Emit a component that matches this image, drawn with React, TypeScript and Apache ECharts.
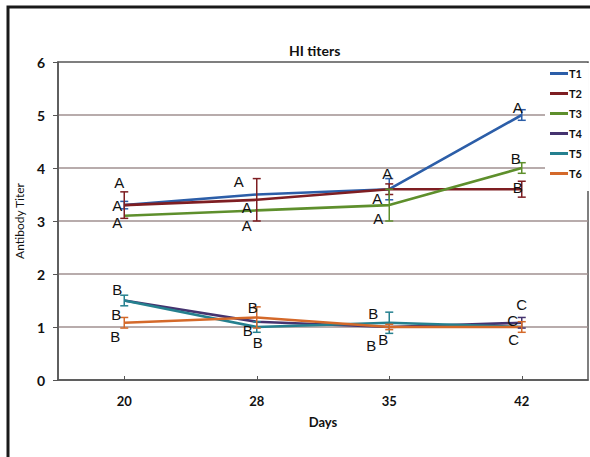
import React, { useEffect, useRef } from "react";
import * as echarts from "echarts";

// Sampling days (x categories)
const days = ["20", "28", "35", "42"];
const yTicks = [0, 1, 2, 3, 4, 5, 6];

// Mean HI antibody titers per treatment
const seriesNames = ["T1", "T2", "T3", "T4", "T5", "T6"];
const t1 = [3.3, 3.5, 3.6, 5.0];
const t2 = [3.3, 3.4, 3.6, 3.6];
const t3 = [3.1, 3.2, 3.3, 4.0];
const t4 = [1.5, 1.1, 1.0, 1.08];
const t5 = [1.5, 1.0, 1.08, 1.0];
const t6 = [1.08, 1.18, 1.0, 1.0];

// Standard errors (half-length of the error bars)
const e1 = [0.07, 0, 0.2, 0.1];
const e2 = [0.25, 0.4, 0.1, 0.15];
const e3 = [0, 0, 0.3, 0.1];
const e4 = [0, 0, 0, 0.1];
const e5 = [0.1, 0.1, 0.2, 0];
const e6 = [0.1, 0.2, 0.05, 0.1];

const colors = ["#2c5ea8", "#7e1e22", "#5e8f2c", "#45336f", "#25808f", "#d4692a"];

// Significance letters: [day index, y value, text, horizontal nudge in px]
const letterDay = [0, 0, 0, 0, 0, 0, 1, 1, 1, 1, 1, 1, 2, 2, 2, 2, 2, 2, 3, 3, 3, 3, 3, 3];
const letterY = [3.72, 3.3, 2.98, 1.7, 1.23, 0.83, 3.74, 3.26, 2.92, 1.36, 0.94, 0.7, 3.89, 3.43, 3.04, 1.26, 0.77, 0.66, 5.15, 4.17, 3.64, 1.43, 1.13, 0.77];
const letterText = ["A", "A", "A", "B", "B", "B", "A", "A", "A", "B", "B", "B", "A", "A", "A", "B", "B", "B", "A", "B", "B", "C", "C", "C"];
const letterDx = [-5, -7, -7, -7, -8, -9, -18, -10, -10, -4, -9, 1, -2, -12, -11, -16, -6, -18, -4, -6, -4, 0, -9, -8];

const means = [t1, t2, t3, t4, t5, t6];
const errs = [e1, e2, e3, e4, e5, e6];

export default function App() {
  const ref = useRef<HTMLDivElement>(null);

  useEffect(() => {
    if (!ref.current) return;
    const chart = echarts.init(ref.current, null, { renderer: "svg" });

    const lineSeries = seriesNames.map((name, i) => ({
      name,
      type: "line",
      data: means[i],
      symbol: "none",
      lineStyle: { width: 2.6, color: colors[i] },
      itemStyle: { color: colors[i] },
      z: 3,
    }));

    const errorSeries = seriesNames.map((name, i) => ({
      name: name + "-err",
      type: "custom",
      data: means[i]
        .map((m, d) => [d, m - errs[i][d], m + errs[i][d]])
        .filter((r, d) => errs[i][d] > 0),
      z: 4,
      renderItem: (params: any, api: any) => {
        const x = api.value(0);
        const lo = api.coord([x, api.value(1)]);
        const hi = api.coord([x, api.value(2)]);
        const hw = 4;
        const style = { stroke: colors[i], lineWidth: 1.5 };
        return {
          type: "group",
          children: [
            { type: "line", shape: { x1: lo[0], y1: lo[1], x2: hi[0], y2: hi[1] }, style },
            { type: "line", shape: { x1: lo[0] - hw, y1: lo[1], x2: lo[0] + hw, y2: lo[1] }, style },
            { type: "line", shape: { x1: hi[0] - hw, y1: hi[1], x2: hi[0] + hw, y2: hi[1] }, style },
          ],
        };
      },
    }));

    const letterSeries = {
      name: "letters",
      type: "custom",
      z: 5,
      data: letterDay.map((d, k) => [d, letterY[k], k]),
      renderItem: (params: any, api: any) => {
        const k = api.value(2);
        const p = api.coord([api.value(0), api.value(1)]);
        return {
          type: "text",
          x: p[0] + letterDx[k],
          y: p[1],
          style: {
            text: letterText[k],
            fill: "#111",
            font: "15px 'Liberation Sans', Arial, sans-serif",
            align: "center",
            verticalAlign: "middle",
          },
        };
      },
    };

    chart.setOption({
      animation: false,
      backgroundColor: "#fff",
      title: {
        text: "HI titers",
        left: 284,
        top: 38,
        textStyle: { fontFamily: "Lato", fontWeight: "bold", fontSize: 14, color: "#111" },
      },
      legend: {
        data: seriesNames,
        orient: "vertical",
        left: 545,
        top: 63,
        padding: [5, 7, 12, 5],
        backgroundColor: "#fff",
        icon: "rect",
        itemWidth: 18,
        itemHeight: 3,
        itemGap: 9,
        textStyle: { fontFamily: "Lato", fontWeight: "bold", fontSize: 11, color: "#111", padding: [0, 0, 0, -4] },
        z: 2,
      },
      grid: {
        left: 58,
        top: 62,
        right: 2,
        bottom: 77,
        show: true,
        borderColor: "#555",
        borderWidth: 1.5,
        backgroundColor: "transparent",
      },
      xAxis: {
        type: "category",
        data: days,
        name: "Days",
        nameLocation: "middle",
        nameGap: 35,
        nameTextStyle: { fontFamily: "Lato", fontWeight: "bold", fontSize: 13, color: "#111" },
        axisLine: { lineStyle: { color: "#555", width: 1.5 } },
        axisTick: { show: true, inside: true, alignWithLabel: true, length: 4, lineStyle: { color: "#555" } },
        axisLabel: { margin: 14, fontFamily: "Lato", fontWeight: "bold", fontSize: 13, color: "#111" },
        splitLine: { show: false },
      },
      yAxis: {
        type: "value",
        min: yTicks[0],
        max: yTicks[yTicks.length - 1],
        interval: 1,
        name: "Antibody Titer",
        nameLocation: "middle",
        nameGap: 29,
        nameTextStyle: { fontFamily: "Lato", fontSize: 12, color: "#111" },
        axisLine: { show: true, lineStyle: { color: "#555", width: 1.5 } },
        axisTick: { show: true, length: 5, lineStyle: { color: "#555" } },
        axisLabel: { margin: 13, fontFamily: "Lato", fontWeight: "bold", fontSize: 14, color: "#111" },
        splitLine: {
          show: true,
          showMinLine: false,
          showMaxLine: false,
          lineStyle: { color: "#a09090", width: 1.5 },
        },
      },
      graphic: [
        {
          type: "rect",
          shape: { x: 8, y: 7, width: 700, height: 600 },
          style: { fill: "none", stroke: "#1a1a1a", lineWidth: 3 },
          silent: true,
        },
      ],
      series: [...lineSeries, ...errorSeries, letterSeries],
    });

    return () => chart.dispose();
  }, []);

  return (
    <div
      ref={ref}
      style={{ position: "absolute", left: 0, top: 0, width: 590, height: 457 }}
    />
  );
}
